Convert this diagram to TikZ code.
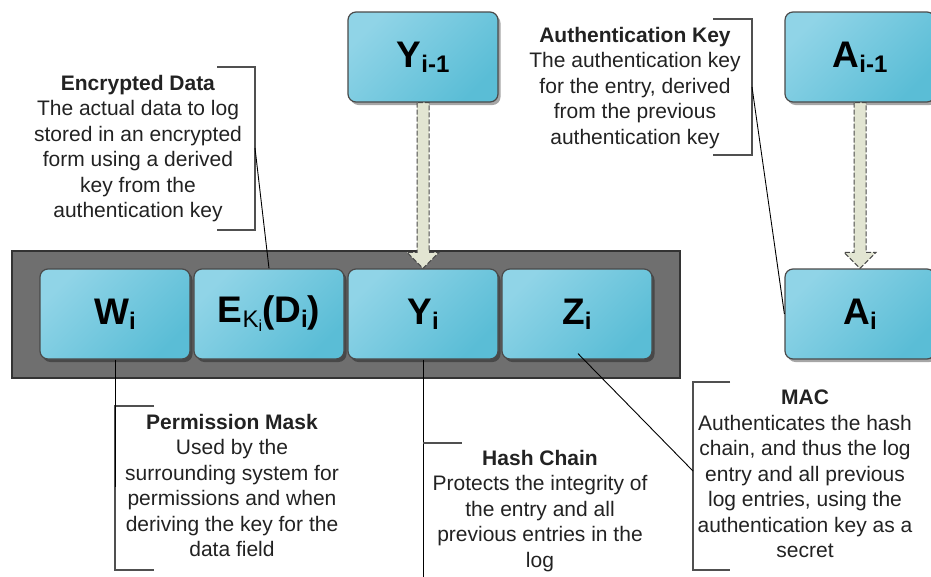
\documentclass[tikz,border=0pt]{standalone}
\usepackage{fontspec}
\setmainfont{Liberation Sans}
\usetikzlibrary{calc,shadows}
\definecolor{boxL}{HTML}{90D4E7}
\definecolor{boxD}{HTML}{5ABDD6}
\definecolor{boxEdge}{HTML}{4A4A4A}
\definecolor{contFill}{HTML}{6F6F6F}
\definecolor{contEdge}{HTML}{333333}
\definecolor{arrFill}{HTML}{E2E5D2}
\definecolor{txt}{HTML}{222222}
\definecolor{brk}{HTML}{505050}
\newcommand{\boxfont}{\fontsize{37}{40}\selectfont\bfseries}
\newcommand{\subfnt}{\fontsize{24}{26}\selectfont}
\newcommand{\sbs}[1]{\raisebox{-5pt}{\subfnt #1}}
\begin{document}
\begin{tikzpicture}[x=1pt,y=-1pt,
  fieldbox/.style={draw=boxEdge, line width=1.2pt, rounded corners=8pt,
    top color=boxL, bottom color=boxD, shading angle=45,
    minimum width=150pt, minimum height=90pt, inner sep=0pt,
    font=\boxfont, text=black,
    drop shadow={shadow xshift=2.5pt, shadow yshift=-3pt, fill=black, opacity=0.35}},
  note/.style={align=center, anchor=north, inner sep=0pt, text=txt,
    font=\fontsize{21}{25.5}\selectfont},
  bracket/.style={draw=brk, line width=1.6pt},
  conn/.style={draw=black, line width=0.9pt},
  flowarrow/.style={fill=arrFill, draw=boxEdge, line width=1pt, dash pattern=on 5pt off 2pt}
]
\useasboundingbox (0,0) rectangle (931,576);
% container
\draw[fill=contFill, draw=contEdge, line width=1.2pt] (12,251) rectangle (680,378);
% field boxes
\node[fieldbox] (W) at (115,314) {W\sbs{i}};
\node[fieldbox] (E) at (269,314) {E\raisebox{-5pt}{\subfnt\mdseries K\raisebox{-4pt}{\fontsize{16}{18}\selectfont i}}(D\sbs{i})};
\node[fieldbox] (Y) at (423,314) {Y\sbs{i}};
\node[fieldbox] (Z) at (577,314) {Z\sbs{i}};
\node[fieldbox] (Yp) at (423,57) {Y\sbs{i-1}};
\node[fieldbox] (Ap) at (860,57) {A\sbs{i-1}};
\node[fieldbox] (A) at (860,314) {A\sbs{i}};
% flow arrows
\draw[flowarrow] ($(Yp.south)+(-6,0)$) -- ($(Y.north)+(-6,-16)$) -- ($(Y.north)+(-16,-16)$) -- (Y.north)
  -- ($(Y.north)+(16,-16)$) -- ($(Y.north)+(6,-16)$) -- ($(Yp.south)+(6,0)$) -- cycle;
\draw[flowarrow] ($(Ap.south)+(-6,0)$) -- ($(A.north)+(-6,-16)$) -- ($(A.north)+(-16,-16)$) -- (A.north)
  -- ($(A.north)+(16,-16)$) -- ($(A.north)+(6,-16)$) -- ($(Ap.south)+(6,0)$) -- cycle;
% Encrypted data note
\node[note] (encN) at (138,75) {\textbf{Encrypted Data}\\The actual data to log\\stored in an encrypted\\form using a derived\\key from the\\authentication key};
\draw[bracket] (217,67) -- (255,67) -- (255,230) -- (217,230);
\coordinate (encB) at (255,148);
\draw[conn] (encB) -- (E.north);
% Authentication key note
\node[note] (authN) at (635,27) {\textbf{Authentication Key}\\The authentication key\\for the entry, derived\\from the previous\\authentication key};
\draw[bracket] (713,19) -- (752,19) -- (752,155) -- (713,155);
\coordinate (authB) at (752,87);
\draw[conn] (authB) -- (A.west);
% Permission mask note
\node[note] (permN) at (232,414) {\textbf{Permission Mask}\\Used by the\\surrounding system for\\permissions and when\\deriving the key for the\\data field};
\draw[bracket] (154,406) -- (115,406) -- (115,570) -- (154,570);
\coordinate (permB) at (115,487);
\draw[conn] (W.south) -- (permB);
% Hash chain note
\node[note] (hashN) at (540,450) {\textbf{Hash Chain}\\Protects the integrity of\\the entry and all\\previous entries in the\\log};
\coordinate (hashEnd) at (423,580);
\coordinate (hashT) at (423,443);
\draw[conn] (Y.south) -- (hashEnd);
\draw[bracket] (hashT) -- ++(39,0);
% MAC note
\node[note] (macN) at (805,390) {\textbf{MAC}\\Authenticates the hash\\chain, and thus the log\\entry and all previous\\log entries, using the\\authentication key as a\\secret};
\draw[bracket] (730,382) -- (693,382) -- (693,570) -- (730,570);
\coordinate (macB) at (693,471);
\draw[conn] ($(Z.south)+(1,-6)$) -- (macB);
\end{tikzpicture}
\end{document}
